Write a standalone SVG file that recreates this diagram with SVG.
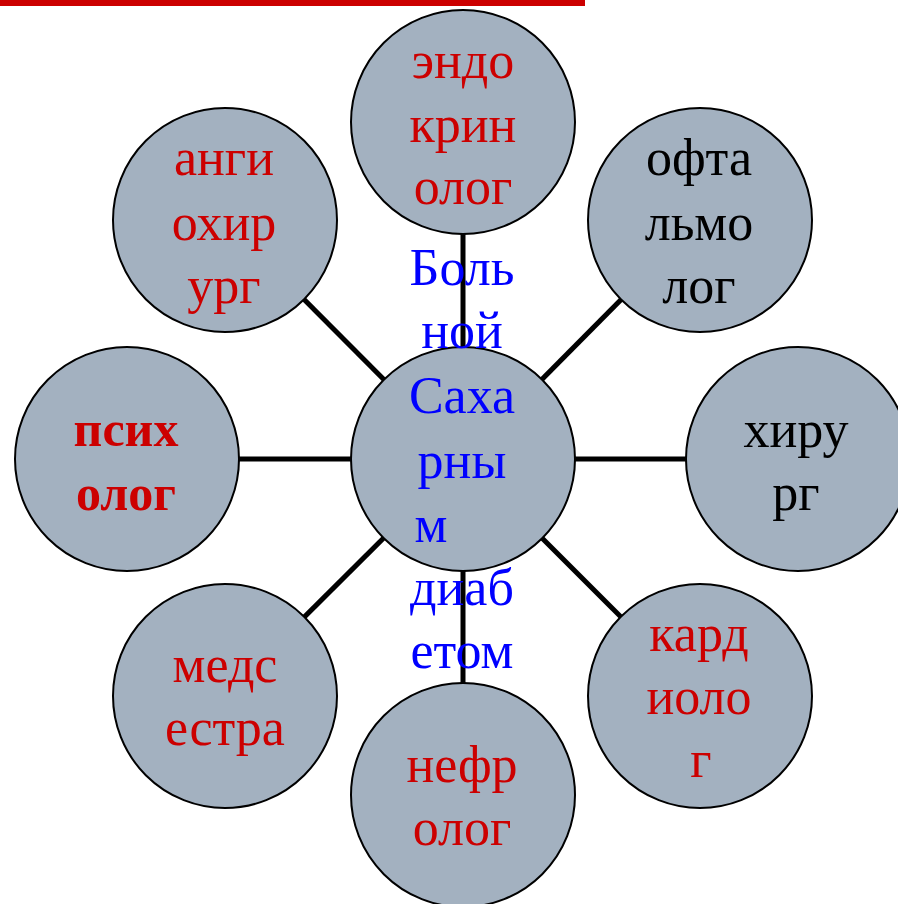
<svg xmlns="http://www.w3.org/2000/svg" width="898" height="904" viewBox="0 0 898 904">
  <style>
    .node circle { fill: #A3B1C0; stroke: #000000; stroke-width: 2; }
    .conn line { stroke: #000000; stroke-width: 5; }
    text { font-family: "Liberation Serif", "Times New Roman", serif; font-size: 52px; text-anchor: middle; }
    .red { fill: #CC0000; }
    .black { fill: #000000; }
    .blue { fill: #0000FF; }
    .bold { font-weight: bold; font-size: 50px; }
  </style>

  <!-- header bar -->
  <rect x="0" y="0" width="585" height="6" fill="#CC0000"/>

  <!-- spokes from the hub to every satellite -->
  <g id="connectors" class="conn">
    <line x1="463" y1="459" x2="463" y2="122"/>
    <line x1="463" y1="459" x2="700" y2="220"/>
    <line x1="463" y1="459" x2="798" y2="459"/>
    <line x1="463" y1="459" x2="700" y2="696"/>
    <line x1="463" y1="459" x2="463" y2="795"/>
    <line x1="463" y1="459" x2="225" y2="696"/>
    <line x1="463" y1="459" x2="127" y2="459"/>
    <line x1="463" y1="459" x2="225" y2="220"/>
  </g>

  <g id="endocrinologist" class="node">
    <circle cx="463" cy="122" r="112"/>
    <text class="red" x="463" y="78">эндо</text>
    <text class="red" x="463" y="142">крин</text>
    <text class="red" x="463" y="204">олог</text>
  </g>

  <g id="ophthalmologist" class="node">
    <circle cx="700" cy="220" r="112"/>
    <text class="black" x="699" y="175">офта</text>
    <text class="black" x="699" y="240">льмо</text>
    <text class="black" x="699" y="303">лог</text>
  </g>

  <g id="surgeon" class="node">
    <circle cx="798" cy="459" r="112"/>
    <text class="black" x="796" y="447">хиру</text>
    <text class="black" x="796" y="510">рг</text>
  </g>

  <g id="cardiologist" class="node">
    <circle cx="700" cy="696" r="112"/>
    <text class="red" x="699" y="651">кард</text>
    <text class="red" x="699" y="714">иоло</text>
    <text class="red" x="701" y="777">г</text>
  </g>

  <g id="nephrologist" class="node">
    <circle cx="463" cy="795" r="112"/>
    <text class="red" x="462" y="782">нефр</text>
    <text class="red" x="462" y="845">олог</text>
  </g>

  <g id="nurse" class="node">
    <circle cx="225" cy="696" r="112"/>
    <text class="red" x="225" y="682">медс</text>
    <text class="red" x="225" y="745">естра</text>
  </g>

  <g id="psychologist" class="node">
    <circle cx="127" cy="459" r="112"/>
    <text class="red bold" x="126" y="446">псих</text>
    <text class="red bold" x="126" y="510">олог</text>
  </g>

  <g id="angiosurgeon" class="node">
    <circle cx="225" cy="220" r="112"/>
    <text class="red" x="224" y="175">анги</text>
    <text class="red" x="224" y="240">охир</text>
    <text class="red" x="224" y="303">ург</text>
  </g>

  <g id="patient" class="node">
    <circle cx="463" cy="459" r="112"/>
    <text class="blue" x="462" y="285">Боль</text>
    <text class="blue" x="462" y="348">ной</text>
    <text class="blue" x="462" y="413">Саха</text>
    <text class="blue" x="462" y="478">рны</text>
    <text class="blue" x="431" y="542">м</text>
    <text class="blue" x="462" y="605">диаб</text>
    <text class="blue" x="462" y="668">етом</text>
  </g>
</svg>
